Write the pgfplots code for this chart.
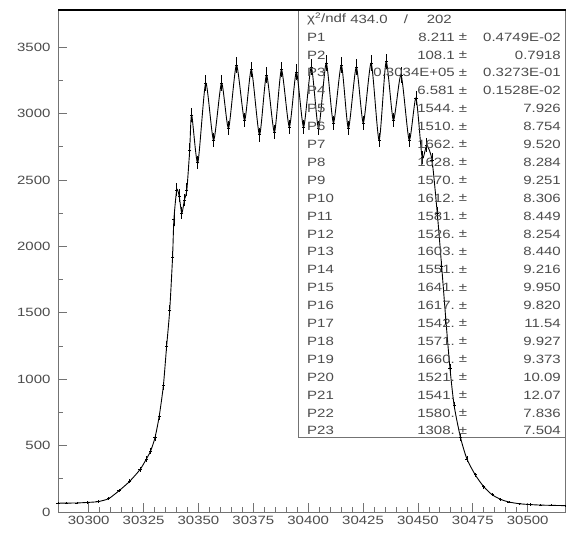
\documentclass[border=0pt]{standalone}
\usepackage{fontspec}
\setmainfont{Liberation Sans}
\newfontfamily\rootfont[FakeStretch=1.25]{Liberation Sans}
\usepackage{pgfplots}
\usepackage{pgfplotstable}
\pgfplotsset{compat=1.18}

% channel, counts, error
\pgfplotstableread{
x y err
30286.0 66 8
30289.8 67 8
30294.6 68 8
30299.4 72 9
30304.2 78 9
30309.0 100 10
30313.8 160 13
30318.6 230 15
30323.4 320 18
30326.3 400 20
30328.2 460 21
30330.2 560 24
30332.1 720 27
30334.0 950 31
30335.5 1250 35
30336.9 1520 39
30338.2 1920 44
30338.8 2200 47
30340.1 2425 49
30341.2 2380 49
30342.4 2250 47
30343.6 2350 48
30344.7 2425 49
30346.0 2725 52
30346.9 2990 55
30349.7 2630 51
30353.3 3230 57
30356.9 2800 53
30360.5 3230 57
30363.7 2890 54
30367.3 3365 58
30371.0 2950 54
30374.1 3330 58
30377.8 2840 53
30381.0 3290 57
30384.6 2860 53
30387.8 3330 58
30391.4 2900 54
30394.6 3313 58
30397.9 2900 54
30401.4 3350 58
30404.7 2890 54
30408.2 3380 58
30411.5 2930 54
30415.1 3365 58
30418.3 2890 54
30421.9 3350 58
30425.1 2930 54
30428.7 3380 58
30432.3 2800 53
30435.5 3390 58
30438.8 2950 54
30442.3 3290 57
30446.0 2800 53
30449.1 3117 56
30451.9 2670 52
30454.0 2760 53
30456.4 2650 51
30458.8 2250 47
30460.8 1850 43
30462.7 1450 38
30464.6 1080 33
30466.5 800 28
30469.4 560 24
30472.3 400 20
30476.1 280 17
30480.0 190 14
30483.8 130 11
30487.7 95 10
30491.5 75 9
30496.3 62 8
30501.1 56 8
30505.9 52 7
30510.7 50 7
30517.0 48 7
}\spectrum

\definecolor{txt}{gray}{0.3}
\definecolor{frm}{gray}{0.45}

\begin{document}
\begin{tikzpicture}
\path[use as bounding box] (0pt,0pt) rectangle (566pt,541pt);
\begin{axis}[
  at={(58pt,29pt)}, anchor=south west,
  scale only axis, width=507pt, height=502pt,
  xmin=30286, xmax=30517, ymin=0, ymax=3780,
  clip=false,
  axis line style={frm, line width=0.8pt},
  tick pos=left, tick align=inside,
  major tick length=9pt, minor tick length=5pt,
  tick style={frm, line width=0.8pt},
  xtick={30300,30325,...,30500},
  xticklabels={30300,30325,30350,30375,30400,30425,30450,30475,30500},
  minor x tick num=4,
  ytick={0,500,...,3500},
  yticklabels={0,500,1000,1500,2000,2500,3000,3500},
  minor y tick num=1,
  scaled x ticks=false, scaled y ticks=false,
  ticklabel style={font=\rootfont\fontsize{12}{14}\selectfont, text=txt},
  /pgf/number format/assume math mode=true,
  yticklabel style={xshift=-4pt},
  xticklabel style={yshift=-1pt},
]
% statistics box frame
\draw[frm, line width=0.8pt] (rel axis cs:0.4734,1) -- (rel axis cs:0.4734,0.1494) -- (rel axis cs:1.01,0.1494);
% fitted curve
\addplot[black, line width=0.9pt, smooth, tension=0.4] table[x=x, y=y] {\spectrum};
% measured points with errors
\addplot[black, line width=0.7pt, only marks, mark=-, mark size=1.6pt,
  error bars/.cd, y dir=both, y explicit, error mark=none,
  error bar style={line width=0.7pt}]
  table[x=x, y=y, y error=err] {\spectrum};
% heavy top edge of the frame
\draw[black, line width=2pt] (rel axis cs:0,1) -- (rel axis cs:1.01,1);
\end{axis}

% fit parameters
\begin{scope}[every node/.style={inner sep=0pt, text=txt, font=\rootfont\fontsize{12}{14}\selectfont}]
\node[anchor=west] at (307pt,{(541-19)*1pt}) {χ\textsuperscript{2}/ndf};
\node[anchor=east] at (388pt,{(541-19)*1pt}) {434.0};
\node at (406pt,{(541-19)*1pt}) {/};
\node[anchor=east] at (452pt,{(541-19)*1pt}) {202};
\foreach \n/\v/\e [count=\i] in {
  P1/8.211/0.4749E-02,
  P2/108.1/0.7918,
  P3/0.3034E+05/0.3273E-01,
  P4/6.581/0.1528E-02,
  P5/1544./7.926,
  P6/1510./8.754,
  P7/1662./9.520,
  P8/1628./8.284,
  P9/1570./9.251,
  P10/1612./8.306,
  P11/1581./8.449,
  P12/1526./8.254,
  P13/1603./8.440,
  P14/1551./9.216,
  P15/1641./9.950,
  P16/1617./9.820,
  P17/1542./11.54,
  P18/1571./9.927,
  P19/1660./9.373,
  P20/1521./10.09,
  P21/1541./12.07,
  P22/1580./7.836,
  P23/1308./7.504} {
  \pgfmathsetmacro{\yy}{541-37-(\i-1)*17.9}
  \node[anchor=west] at (307pt,\yy pt) {\n};
  \node[anchor=east] at (455pt,\yy pt) {\v};
  \node at (463pt,\yy pt) {±};
  \node[anchor=east] at (561pt,\yy pt) {\e};
}
\end{scope}
\end{tikzpicture}
\end{document}
